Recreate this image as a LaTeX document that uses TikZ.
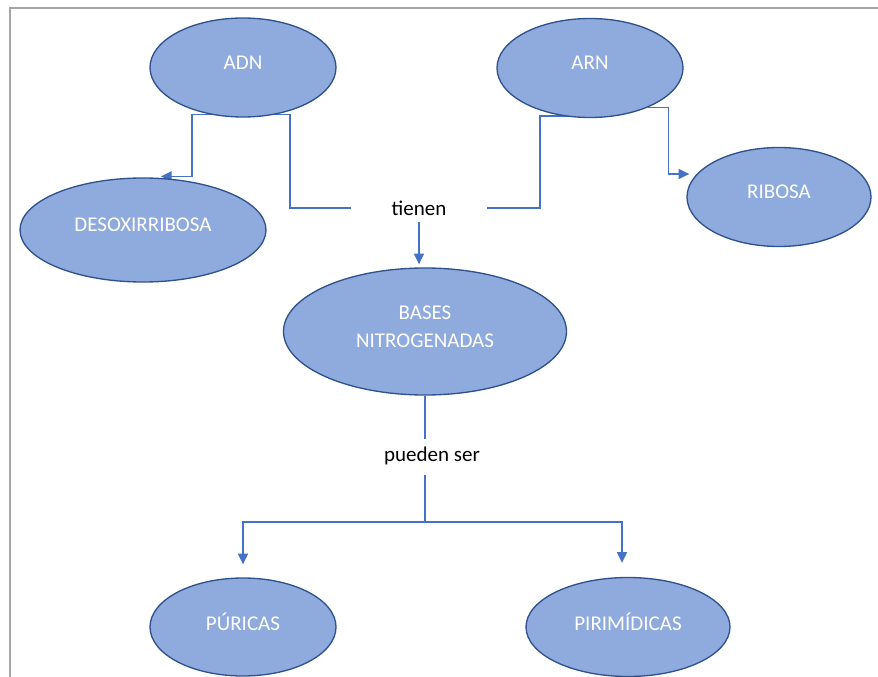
\documentclass[tikz,border=0pt]{standalone}
\usepackage{fontspec}
\setmainfont{Carlito}
\usetikzlibrary{shapes.geometric,arrows.meta}
\definecolor{fillblue}{HTML}{8FAADC}
\definecolor{edgeblue}{HTML}{2F528F}
\definecolor{linkblue}{HTML}{4472C4}
\definecolor{framegray}{HTML}{A6A6A6}
\pgfdeclarelayer{links}
\pgfsetlayers{links,main}

\begin{document}
\begin{tikzpicture}[x=0.75pt,y=-0.75pt,
  concept/.style 2 args={ellipse, draw=edgeblue, line width=1pt, fill=fillblue,
    inner sep=0pt, minimum width=#1, minimum height=#2},
  caption/.style={text=white, font=\fontsize{15.75}{21}\selectfont, align=center, yshift=3.75pt},
  linkword/.style={font=\fontsize{15.75}{21}\selectfont, text=black, inner sep=0pt},
  link/.style={draw=linkblue, line width=1.1pt},
  tip/.style={link, -{Triangle[length=8pt,width=7.5pt]}}]

\useasboundingbox (0,0) rectangle (878,677);

% page frame
\draw[framegray, line width=1.5pt] (10,677) -- (10,8) -- (878,8);

% concepts
\node[concept={139.5pt}{74.25pt}, label={[caption]center:ADN}] (adn) at (243,67.5) {};
\node[concept={139.5pt}{74.25pt}, label={[caption]center:ARN}] (arn) at (590,68) {};
\node[concept={184.5pt}{78pt}, label={[caption]center:DESOXIRRIBOSA}] (desox) at (143,230) {};
\node[concept={138pt}{74.25pt}, label={[caption]center:RIBOSA}] (ribosa) at (779,197) {};
\node[concept={212.25pt}{95.25pt}, label={[caption]center:BASES\\NITROGENADAS}] (bases) at (425,331.5) {};
\node[concept={139.5pt}{73.5pt}, label={[caption]center:PÚRICAS}] (puricas) at (243,627) {};
\node[concept={153pt}{74.25pt}, label={[caption]center:PIRIMÍDICAS}] (pirim) at (628,627) {};

% linking words
\node[linkword, inner xsep=30.4pt, inner ysep=5pt] (tienen) at (419,208) {tienen};
\node[linkword, inner xsep=8pt, inner ysep=6pt] (pueden) at (432,456) {pueden ser};

% arrow end points beside the target concepts
\coordinate (dtip) at ([xshift=13.5pt,yshift=0.75pt]desox.north);
\coordinate (rtip) at ([xshift=2.25pt,yshift=17.25pt]ribosa.west);
\coordinate (fork) at (425,522);

\begin{pgfonlayer}{links}
  \draw[tip] ([yshift=2.25pt]adn.south) -| ([xshift=23.25pt]dtip) -- (dtip);
  \draw[link] ([yshift=2.25pt]adn.south) -| ([xshift=-45.75pt]tienen.west) -- (tienen.west);
  \draw[link] ([yshift=1.5pt]arn.south) -| ([xshift=39.75pt]tienen.east) -- (tienen.east);
  \draw[tip] (arn.-34) -| ([xshift=-15.75pt]rtip) -- (rtip);
  \draw[tip] (tienen.south) -- ([yshift=2.25pt]tienen.south |- bases.north);
  \draw[link] (bases.south) -- (bases.south |- pueden.north);
  \draw[link] ([yshift=-1.5pt]bases.south |- pueden.south) -- (fork);
  \draw[tip] (fork) -| ([yshift=9.75pt]puricas.north);
  \draw[tip] (fork) -| ([xshift=-4.5pt,yshift=10.5pt]pirim.north);
\end{pgfonlayer}
\end{tikzpicture}
\end{document}
